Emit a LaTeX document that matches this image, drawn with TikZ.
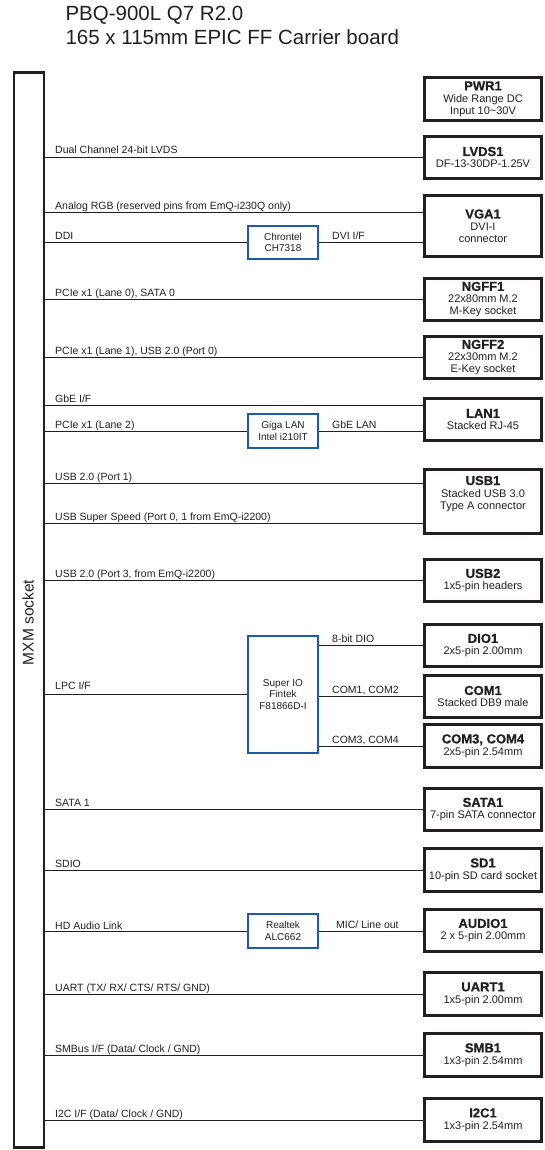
\documentclass[tikz,border=0pt]{standalone}
\usepackage{fontspec}
\setmainfont{Liberation Sans}
\newfontfamily\heavyfont[FakeBold=0.9]{Liberation Sans Bold}
\usetikzlibrary{positioning}
\definecolor{chipblue}{HTML}{1D5AA8}
\definecolor{wire}{HTML}{231F20}
\newcommand{\ctitle}[1]{{\fontsize{13}{13}\selectfont\heavyfont #1}}

\begin{document}
\begin{tikzpicture}[
  x=1pt, y=-1pt,
  socket/.style={draw=wire, line width=2.6pt, minimum width=30pt, minimum height=1075pt, inner sep=0pt},
  conn/.style={draw=wire, line width=2.6pt, minimum width=117pt, minimum height=42.5pt, align=center, inner sep=0pt, text=wire, font=\fontsize{11}{12}\selectfont},
  chip/.style={draw=chipblue, line width=2.4pt, minimum width=69.5pt, minimum height=33.5pt, align=center, inner sep=0pt, text=wire, font=\fontsize{10}{11.5}\selectfont},
  bus/.style={wire, line width=1pt},
  sig/.style={anchor=base west, inner sep=0pt, text=wire, font=\fontsize{10.5}{12}\selectfont}
]
\useasboundingbox (0,0) rectangle (544,1150);

% Title
\node[anchor=west, text=wire, font=\fontsize{20.5}{22}\selectfont] (title1) at (62,15) {PBQ-900L Q7 R2.0};
\node[anchor=west, text=wire, font=\fontsize{20.5}{22}\selectfont] (title2) at (62,37) {165 x 115mm EPIC FF Carrier board};

% --- MXM socket ---
\node[socket] (mxm) at (29,610) {};
\node[rotate=90, text=wire, font=\fontsize{15.5}{17}\selectfont] (mxmtext) at (28,622.5) {MXM socket};

% --- Connectors on the right ---
\node[conn, minimum height=43.5pt] (pwr1) at (483,99) {\ctitle{PWR1}\\Wide Range DC\\Input 10\textasciitilde30V};
\node[conn] (lvds1) at (483,157.5) {\ctitle{LVDS1}\\DF-13-30DP-1.25V};
\node[conn, minimum height=61.5pt] (vga1) at (483,226) {\ctitle{VGA1}\\DVI-I\\connector};
\node[conn] (ngff1) at (483,299.5) {\ctitle{NGFF1}\\22x80mm M.2\\M-Key socket};
\node[conn] (ngff2) at (483,357.5) {\ctitle{NGFF2}\\22x30mm M.2\\E-Key socket};
\node[conn] (lan1) at (483,419.5) {\ctitle{LAN1}\\Stacked RJ-45};
\node[conn, minimum height=64.5pt] (usb1) at (483,501.5) {\ctitle{USB1}\\Stacked USB 3.0\\Type A connector\\[6pt]};
\node[conn] (usb2) at (483,580.5) {\ctitle{USB2}\\1x5-pin headers};
\node[conn] (dio1) at (483,645.5) {\ctitle{DIO1}\\2x5-pin 2.00mm};
\node[conn] (com1) at (483,696.5) {\ctitle{COM1}\\Stacked DB9 male};
\node[conn] (com34) at (483,746) {\ctitle{COM3, COM4}\\2x5-pin 2.54mm};
\node[conn] (sata1) at (483,809.5) {\ctitle{SATA1}\\7-pin SATA connector};
\node[conn] (sd1) at (483,870) {\ctitle{SD1}\\10-pin SD card socket};
\node[conn] (audio1) at (483,930.5) {\ctitle{AUDIO1}\\2 x 5-pin 2.00mm};
\node[conn] (uart1) at (483,994) {\ctitle{UART1}\\1x5-pin 2.00mm};
\node[conn] (smb1) at (483,1055) {\ctitle{SMB1}\\1x3-pin 2.54mm};
\node[conn] (i2c1) at (483,1120) {\ctitle{I2C1}\\1x3-pin 2.54mm};

% --- Chips in between ---
\node[chip] (chrontel) at (283,242.5) {Chrontel\\CH7318};
\node[chip, minimum height=34pt] (gigalan) at (283,431) {Giga LAN\\Intel i210IT};
\node[chip, minimum height=116.5pt] (superio) at (283,694.5) {Super IO\\Fintek\\F81866D-I};
\node[chip, minimum height=34pt] (realtek) at (283,931) {Realtek\\ALC662};

% taps that do not sit on a box centre
\coordinate (c-rgb) at (0,213);
\coordinate (c-gbe) at (0,405);
\coordinate (c-usbp1) at (0,483);
\coordinate (c-usbss) at (0,523);

% --- Buses ---
\draw[bus] (mxm.east |- lvds1.west) -- (lvds1.west);
\draw[bus] (mxm.east |- c-rgb) -- (vga1.west |- c-rgb);
\draw[bus] (mxm.east |- chrontel.west) -- (chrontel.west);
\draw[bus] (chrontel.east) -- (vga1.west |- chrontel.east);
\draw[bus] (mxm.east |- ngff1.west) -- (ngff1.west);
\draw[bus] (mxm.east |- ngff2.west) -- (ngff2.west);
\draw[bus] (mxm.east |- c-gbe) -- (lan1.west |- c-gbe);
\draw[bus] (mxm.east |- gigalan.west) -- (gigalan.west);
\draw[bus] (gigalan.east) -- (lan1.west |- gigalan.east);
\draw[bus] (mxm.east |- c-usbp1) -- (usb1.west |- c-usbp1);
\draw[bus] (mxm.east |- c-usbss) -- (usb1.west |- c-usbss);
\draw[bus] (mxm.east |- usb2.west) -- (usb2.west);
\draw[bus] (mxm.east |- superio.west) -- (superio.west);
\draw[bus] (superio.east |- dio1.west) -- (dio1.west);
\draw[bus] (superio.east |- com1.west) -- (com1.west);
\draw[bus] (superio.east |- com34.west) -- (com34.west);
\draw[bus] (mxm.east |- sata1.west) -- (sata1.west);
\draw[bus] (mxm.east |- sd1.west) -- (sd1.west);
\draw[bus] (mxm.east |- realtek.west) -- (realtek.west);
\draw[bus] (realtek.east) -- (audio1.west |- realtek.east);
\draw[bus] (mxm.east |- uart1.west) -- (uart1.west);
\draw[bus] (mxm.east |- smb1.west) -- (smb1.west);
\draw[bus] (mxm.east |- i2c1.west) -- (i2c1.west);

% --- Bus labels ---
\node[sig] (l-lvds) at (55,154) {Dual Channel 24-bit LVDS};
\node[sig] (l-rgb) at (55,210) {Analog RGB (reserved pins from EmQ-i230Q only)};
\node[sig] (l-ddi) at (55,239.5) {DDI};
\node[sig] (l-dvi) at (332,239.5) {DVI I/F};
\node[sig] (l-ngff1) at (55,296.5) {PCIe x1 (Lane 0), SATA 0};
\node[sig] (l-ngff2) at (55,354.5) {PCIe x1 (Lane 1), USB 2.0 (Port 0)};
\node[sig] (l-gbeif) at (55,402) {GbE I/F};
\node[sig] (l-pcie2) at (55,428) {PCIe x1 (Lane 2)};
\node[sig] (l-gbelan) at (332,428) {GbE LAN};
\node[sig] (l-usbp1) at (55,480) {USB 2.0 (Port 1)};
\node[sig] (l-usbss) at (55,520) {USB Super Speed (Port 0, 1 from EmQ-i2200)};
\node[sig] (l-usb2) at (55,577.5) {USB 2.0 (Port 3, from EmQ-i2200)};
\node[sig] (l-dio) at (332,642.5) {8-bit DIO};
\node[sig] (l-lpc) at (55,689) {LPC I/F};
\node[sig] (l-com12) at (332,693.5) {COM1, COM2};
\node[sig] (l-com34) at (332,743) {COM3, COM4};
\node[sig] (l-sata) at (55,806.5) {SATA 1};
\node[sig] (l-sdio) at (55,867) {SDIO};
\node[sig] (l-hda) at (55,929) {HD Audio Link};
\node[sig] (l-mic) at (336,928) {MIC/ Line out};
\node[sig] (l-uart) at (55,991) {UART (TX/ RX/ CTS/ RTS/ GND)};
\node[sig] (l-smb) at (55,1052) {SMBus I/F (Data/ Clock / GND)};
\node[sig] (l-i2c) at (55,1117) {I2C I/F (Data/ Clock / GND)};

\end{tikzpicture}
\end{document}
